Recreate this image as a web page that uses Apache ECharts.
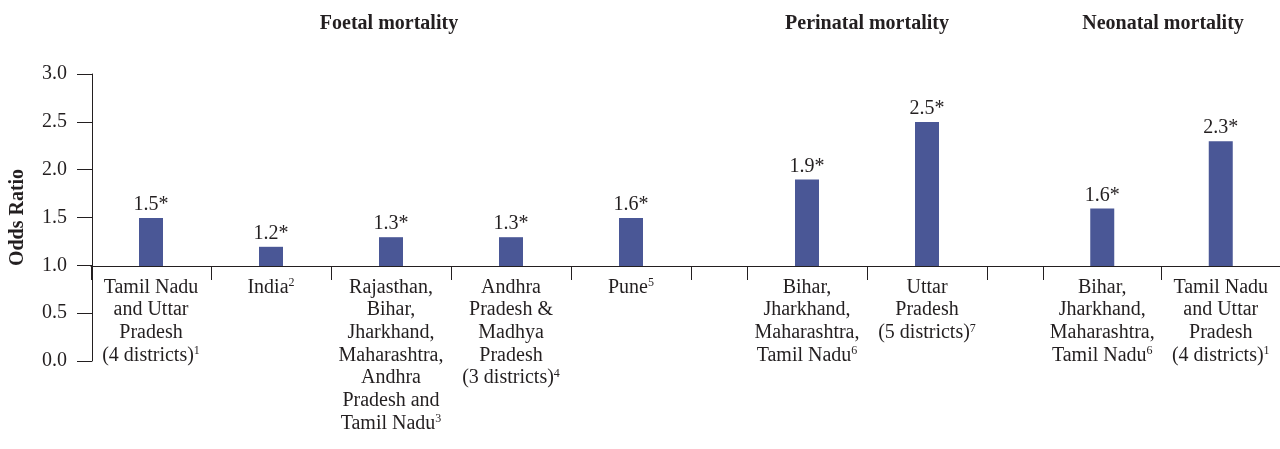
<!DOCTYPE html>
<html>
<head>
<meta charset="utf-8">
<script src="https://cdn.jsdelivr.net/npm/echarts@6/dist/echarts.min.js"></script>
<style>
  html, body { margin: 0; padding: 0; background: #fff; }
  #main { width: 1280px; height: 449px; }
</style>
</head>
<body>
<div id="main"></div>
<script>
//-------------------------------= data =-------------------------------
var groupTitles = ['Foetal mortality', 'Perinatal mortality', 'Neonatal mortality'];

var foetalCats = ['Tamil Nadu\nand Uttar\nPradesh\n(4 districts)', 'India',
  'Rajasthan,\nBihar,\nJharkhand,\nMaharashtra,\nAndhra\nPradesh and\nTamil Nadu',
  'Andhra\nPradesh &\nMadhya\nPradesh\n(3 districts)', 'Pune'];
var foetalNotes = ['1', '2', '3', '4', '5'];
var foetalValues = [1.5, 1.2, 1.3, 1.3, 1.5];
var foetalLabels = ['1.5*', '1.2*', '1.3*', '1.3*', '1.6*'];

var perinatalCats = ['Bihar,\nJharkhand,\nMaharashtra,\nTamil Nadu', 'Uttar\nPradesh\n(5 districts)'];
var perinatalNotes = ['6', '7'];
var perinatalValues = [1.9, 2.5];
var perinatalLabels = ['1.9*', '2.5*'];

var neonatalCats = ['Bihar,\nJharkhand,\nMaharashtra,\nTamil Nadu', 'Tamil Nadu\nand Uttar\nPradesh\n(4 districts)'];
var neonatalNotes = ['6', '1'];
var neonatalValues = [1.6, 2.3];
var neonatalLabels = ['1.6*', '2.3*'];

var yMin = 0, yMax = 3, yStep = 0.5;
var barBase = 1;

//-------------------------------= style =-------------------------------
var FONT = 'Liberation Serif';
var INK = '#231f20';
var BAR = '#4a5796';
var FS = 20;

var chart = echarts.init(document.getElementById('main'));

function catAxis(gi, cats, notes) {
  return {
    type: 'category', gridIndex: gi, data: cats,
    axisLine: { show: true, lineStyle: { color: INK, width: 1 } },
    axisTick: { show: true, length: 14, lineStyle: { color: INK } },
    axisLabel: {
      interval: 0, margin: 10, color: INK, fontFamily: FONT, fontSize: FS, lineHeight: 22.7,
      formatter: function (v, i) {
        if (!v) return '';
        return '{n|' + v + '}' + (notes[i] ? '{s|' + notes[i] + '}' : '');
      },
      rich: {
        n: { fontFamily: FONT, fontSize: FS, lineHeight: 22.7, color: INK },
        s: { fontFamily: FONT, fontSize: 12, lineHeight: 12, color: INK, verticalAlign: 'top', padding: [1, 0, 0, 0] }
      }
    }
  };
}

function hiddenY(gi) {
  return { type: 'value', gridIndex: gi, min: barBase, max: yMax, show: false, splitLine: { show: false } };
}

function barSeries(gi, values, labels) {
  return {
    type: 'bar', xAxisIndex: gi, yAxisIndex: gi, barWidth: 24, clip: true,
    itemStyle: { color: BAR },
    label: {
      show: true, position: 'top', distance: 3, color: INK, fontFamily: FONT, fontSize: FS,
      formatter: function (p) { return labels[p.dataIndex]; }
    },
    data: values
  };
}

var gridTop = 74, gridFull = 287, gridUpper = 192;

var option = {
  backgroundColor: '#fff',
  animation: false,
  title: [
    { text: groupTitles[0], left: 389, top: 14, textAlign: 'center' },
    { text: groupTitles[1], left: 867, top: 14, textAlign: 'center' },
    { text: groupTitles[2], left: 1163, top: 14, textAlign: 'center' }
  ].map(function (t) {
    t.padding = 0;
    t.textStyle = { fontFamily: FONT, fontSize: FS, fontWeight: 'bold', color: INK };
    return t;
  }),
  grid: [
    { left: 91, top: gridTop, width: 1189, height: gridFull },   // y axis 0..3
    { left: 91, top: gridTop, width: 600, height: gridUpper },   // foetal
    { left: 691, top: gridTop, width: 56, height: gridUpper },   // gap
    { left: 747, top: gridTop, width: 240, height: gridUpper },  // perinatal
    { left: 987, top: gridTop, width: 56, height: gridUpper },   // gap
    { left: 1043, top: gridTop, width: 237, height: gridUpper }  // neonatal
  ],
  xAxis: [
    { type: 'category', gridIndex: 0, data: [''], show: false },
    catAxis(1, foetalCats, foetalNotes),
    catAxis(2, [''], []),
    catAxis(3, perinatalCats, perinatalNotes),
    catAxis(4, [''], []),
    catAxis(5, neonatalCats, neonatalNotes)
  ],
  yAxis: [
    {
      type: 'value', gridIndex: 0, min: yMin, max: yMax, interval: yStep,
      name: 'Odds Ratio', nameLocation: 'middle', nameRotate: 90, nameGap: 64,
      nameTextStyle: { fontFamily: FONT, fontSize: FS, fontWeight: 'bold', color: INK },
      axisLine: { show: true, lineStyle: { color: INK, width: 1 } },
      axisTick: { show: true, length: 15, lineStyle: { color: INK } },
      axisLabel: {
        margin: 25, color: INK, fontFamily: FONT, fontSize: FS,
        formatter: function (v) { return v.toFixed(1); }
      },
      splitLine: { show: false }
    },
    hiddenY(1), hiddenY(2), hiddenY(3), hiddenY(4), hiddenY(5)
  ],
  series: [
    barSeries(1, foetalValues, foetalLabels),
    barSeries(3, perinatalValues, perinatalLabels),
    barSeries(5, neonatalValues, neonatalLabels)
  ]
};

chart.setOption(option);
</script>
</body>
</html>
